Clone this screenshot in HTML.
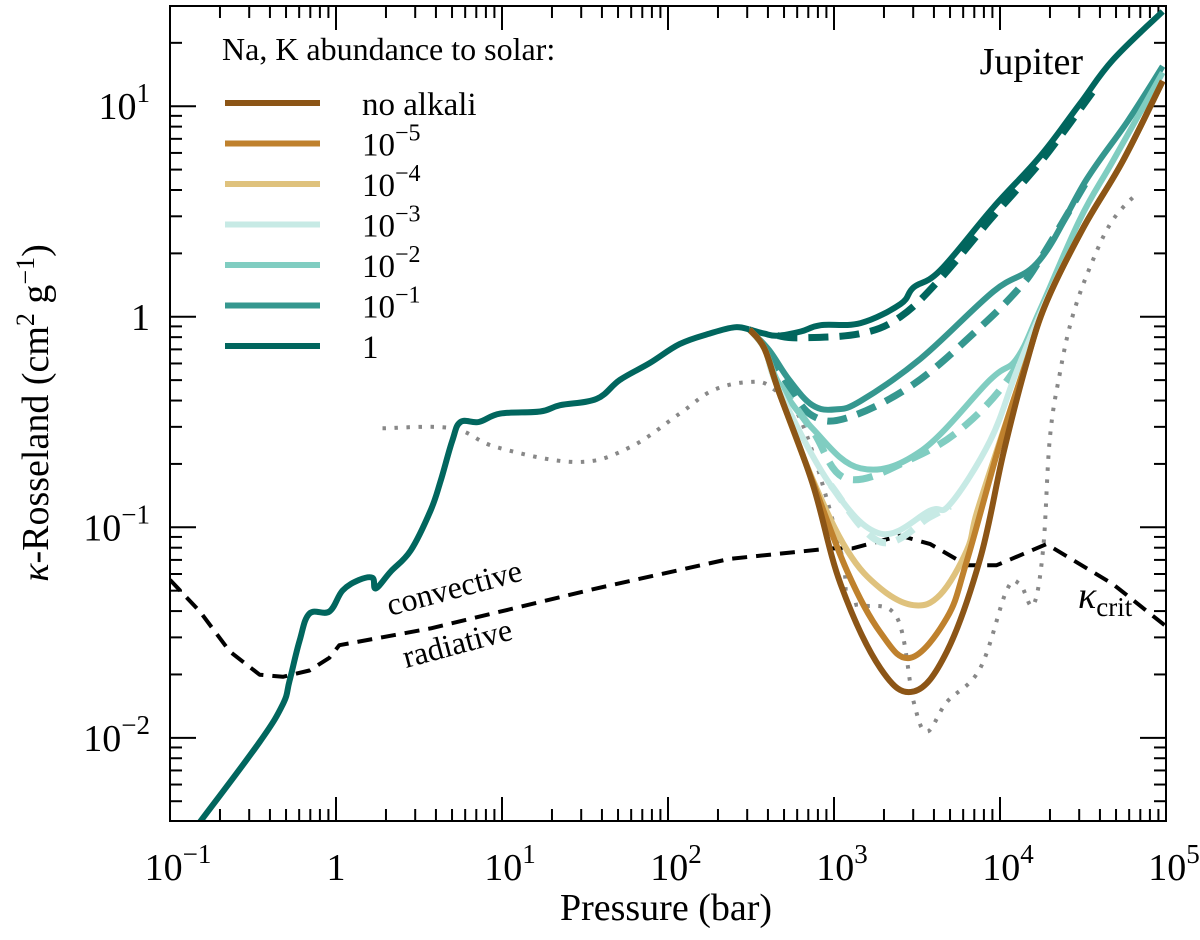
<!DOCTYPE html>
<html><head><meta charset="utf-8"><style>
body{margin:0;background:#fff;}
svg, svg text{font-family:"Liberation Serif","DejaVu Serif","Times New Roman",serif;}
</style></head><body>
<svg id="chart" width="1200" height="935" viewBox="0 0 1200 935" xmlns="http://www.w3.org/2000/svg" font-family="Liberation Serif, DejaVu Serif, serif">
<g id="ticks"></g>
<g id="series"></g>
<rect x="170" y="6" width="996" height="815" fill="none" stroke="#000" stroke-width="2"/>
<g id="labels" font-size="38" font-family="Liberation Serif, serif"></g>
<text x="666" y="920" font-size="38" text-anchor="middle" font-family="Liberation Serif, serif">Pressure (bar)</text>
<text transform="translate(48,413) rotate(-90)" font-size="38" text-anchor="middle" font-family="Liberation Serif, serif"><tspan font-style="italic">κ</tspan>-Rosseland (cm<tspan dy="-14" font-size="26">2</tspan><tspan dy="14"> g</tspan><tspan dy="-14" font-size="26">−1</tspan><tspan dy="14">)</tspan></text>
<text x="1083" y="74" font-size="38" text-anchor="end" font-family="Liberation Serif, serif">Jupiter</text>
<text transform="translate(390,616) rotate(-15)" font-size="32" font-family="Liberation Serif, serif">convective</text>
<text transform="translate(406,668) rotate(-15)" font-size="32" font-family="Liberation Serif, serif">radiative</text>
<text x="1078" y="608" font-size="38" font-family="Liberation Serif, serif"><tspan font-style="italic">κ</tspan><tspan dy="8" font-size="27">crit</tspan></text>
<g id="legend" font-family="Liberation Serif, serif"></g>
</svg>
<script>
// ---- data (log10 pressure [bar], log10 kappa [cm2/g]) ----
const commonP = [-0.82,-0.46,-0.32,-0.28,-0.22,-0.16,-0.04,0.04,0.14,0.22,0.24,0.33,0.45,0.57,0.63,0.70,0.75,0.86,0.99,1.23,1.35,1.57,1.71,1.89,2.07,2.25,2.40,2.49];
const commonK = [-2.40,-2.02,-1.84,-1.73,-1.54,-1.41,-1.40,-1.30,-1.25,-1.24,-1.29,-1.21,-1.11,-0.92,-0.78,-0.59,-0.50,-0.50,-0.46,-0.45,-0.42,-0.39,-0.30,-0.22,-0.13,-0.08,-0.05,-0.06];
const s1P = [2.49,2.58,2.66,2.80,2.92,3.16,3.40,3.48,3.64,3.96,4.24,4.48,4.68,4.98];
const s1K = [-0.06,-0.08,-0.09,-0.07,-0.04,-0.03,0.06,0.14,0.22,0.52,0.76,1.01,1.22,1.45];
const d1P = [2.66,2.80,3.16,3.40,3.64,3.94,4.12,4.30,4.56];
const d1K = [-0.09,-0.10,-0.08,0.00,0.18,0.46,0.62,0.79,1.07];
const s01P = [2.49,2.61,2.73,2.87,3.01,3.16,3.52,3.96,4.24,4.52,4.77,4.98];
const s01K = [-0.06,-0.16,-0.30,-0.42,-0.44,-0.40,-0.20,0.12,0.27,0.65,0.93,1.19];
const d01P = [2.61,2.73,2.87,3.08,3.48,3.88,4.12,4.24,4.52];
const d01K = [-0.17,-0.33,-0.47,-0.48,-0.32,-0.05,0.14,0.27,0.64];
const s001P = [2.49,2.58,2.67,2.87,3.16,3.52,3.94,4.10,4.24,4.48,4.68,4.98];
const s001K = [-0.06,-0.15,-0.32,-0.53,-0.72,-0.64,-0.30,-0.20,0.03,0.46,0.74,1.16];
const d001P = [2.67,2.87,3.08,3.48,3.80,4.08,4.24];
const d001K = [-0.32,-0.54,-0.77,-0.67,-0.51,-0.26,0.02];
const s0001P = [2.49,2.58,2.67,2.98,3.28,3.58,3.70,3.94,4.10,4.28,4.50,4.74,4.98];
const s0001K = [-0.06,-0.15,-0.35,-0.80,-1.03,-0.92,-0.89,-0.59,-0.26,0.08,0.42,0.74,1.12];
const d0001P = [2.98,3.28,3.58,3.70];
const d0001K = [-0.80,-1.07,-0.95,-0.90];
const s1e4P = [2.49,2.58,2.67,2.87,3.08,3.28,3.48,3.64,3.80,3.86,4.00,4.16,4.28,4.50,4.74,4.98];
const s1e4K = [-0.06,-0.15,-0.36,-0.77,-1.11,-1.29,-1.37,-1.32,-1.11,-0.93,-0.59,-0.21,0.07,0.42,0.74,1.12];
const s1e5P = [2.49,2.58,2.67,2.87,3.08,3.28,3.46,3.68,3.80,4.00,4.16,4.28,4.50,4.74,4.98];
const s1e5K = [-0.06,-0.15,-0.36,-0.78,-1.21,-1.50,-1.62,-1.43,-1.16,-0.60,-0.21,0.07,0.42,0.74,1.12];
const noAlkP = [2.49,2.58,2.67,2.87,3.04,3.28,3.48,3.68,3.88,4.02,4.16,4.28,4.50,4.74,4.98];
const noAlkK = [-0.06,-0.15,-0.36,-0.79,-1.27,-1.67,-1.78,-1.59,-1.15,-0.65,-0.22,0.07,0.42,0.74,1.12];
const dotP = [0.28,0.70,0.97,1.45,1.77,2.07,2.27,2.49,2.63,2.81,3.04,3.08,3.17,3.38,3.48,3.56,3.68,3.88,4.04,4.12,4.20,4.26,4.30,4.36,4.44,4.56,4.68,4.83];
const dotK = [-0.53,-0.53,-0.62,-0.69,-0.62,-0.46,-0.35,-0.31,-0.34,-0.51,-1.11,-1.35,-1.37,-1.43,-1.83,-1.97,-1.83,-1.67,-1.30,-1.27,-1.37,-1.10,-0.58,-0.27,0.01,0.27,0.46,0.59];
const critP = [-1.00,-0.82,-0.64,-0.46,-0.32,-0.16,-0.04,0.02,0.57,1.57,2.37,2.98,3.11,3.40,3.58,3.80,3.98,4.28,4.68,5.00];
const critK = [-1.25,-1.40,-1.59,-1.70,-1.71,-1.68,-1.62,-1.56,-1.48,-1.29,-1.15,-1.10,-1.10,-1.04,-1.08,-1.18,-1.18,-1.08,-1.27,-1.47];
const xTickExp = [-1,0,1,2,3,4,5];
const xTickText = [["10","−1"],["1",""],["10","1"],["10","2"],["10","3"],["10","4"],["10","5"]];
const yTickExp = [-2,-1,0,1];
const yTickText = [["10","−2"],["10","−1"],["1",""],["10","1"]];
const legendNames = ["no alkali","10|−5","10|−4","10|−3","10|−2","10|−1","1"];
const legendColors = ["#8c5516","#bf812d","#dfc27d","#c7eae5","#80cdc1","#35978f","#01665e"];

const NS="http://www.w3.org/2000/svg";
const X0=170,X1=1166,Y0=6,Y1=821, PX=-1,PXmax=5, KMIN=-2.395, KMAX=1.476;
function sx(lp){return X0+(lp-PX)/(PXmax-PX)*(X1-X0);}
function sy(lk){return Y1-(lk-KMIN)/(KMAX-KMIN)*(Y1-Y0);}
function mk(tag,attrs,parent){const e=document.createElementNS(NS,tag);for(const k in attrs)e.setAttribute(k,attrs[k]);parent.appendChild(e);return e;}
const series=document.getElementById('series');
mk('clipPath',{id:'clip'},series);
mk('rect',{x:X0,y:Y0,width:X1-X0,height:Y1-Y0},document.getElementById('clip'));
function pathD(P,K,smooth){
  const pts=P.map((p,i)=>[sx(p),sy(K[i])]);
  if(!smooth) return pts.map((q,i)=>(i?'L':'M')+q[0].toFixed(1)+','+q[1].toFixed(1)).join('');
  let d='M'+pts[0][0].toFixed(1)+','+pts[0][1].toFixed(1);
  for(let i=0;i<pts.length-1;i++){
    const p0=pts[Math.max(0,i-1)],p1=pts[i],p2=pts[i+1],p3=pts[Math.min(pts.length-1,i+2)];
    const t=0.18;
    const c1=[p1[0]+(p2[0]-p0[0])*t,p1[1]+(p2[1]-p0[1])*t];
    const c2=[p2[0]-(p3[0]-p1[0])*t,p2[1]-(p3[1]-p1[1])*t];
    d+='C'+c1[0].toFixed(1)+','+c1[1].toFixed(1)+' '+c2[0].toFixed(1)+','+c2[1].toFixed(1)+' '+p2[0].toFixed(1)+','+p2[1].toFixed(1);
  }
  return d;
}
function line(P,K,color,w,dash,name,smooth){
  const e=mk('path',{d:pathD(P,K,smooth),fill:'none',stroke:color,'stroke-width':w,'stroke-linejoin':'round','clip-path':'url(#clip)'},series);
  if(dash)e.setAttribute('stroke-dasharray',dash);
  
  
}
line(dotP,dotK,'#888',4,'3.5,8.5','dotted-reference-line',true);
line(critP,critK,'#000',4,'15,9','kappa-crit-line',false);
line(s1P,s1K,'#01665e',6,null,'line-abundance-1',true);
line(d1P,d1K,'#01665e',7,'20,11','dashed-abundance-1',true);
line(s01P,s01K,'#35978f',6,null,'line-abundance-1e-1',true);
line(d01P,d01K,'#35978f',7,'20,11','dashed-abundance-1e-1',true);
line(s001P,s001K,'#80cdc1',6,null,'line-abundance-1e-2',true);
line(d001P,d001K,'#80cdc1',7,'20,11','dashed-abundance-1e-2',true);
line(s0001P,s0001K,'#c7eae5',6,null,'line-abundance-1e-3',true);
line(d0001P,d0001K,'#c7eae5',7,'20,11','dashed-abundance-1e-3',true);
line(s1e4P,s1e4K,'#dfc27d',6,null,'line-abundance-1e-4',true);
line(s1e5P,s1e5K,'#bf812d',6,null,'line-abundance-1e-5',true);
line(noAlkP,noAlkK,'#8c5516',6,null,'line-no-alkali',true);
line(commonP,commonK,'#01665e',6,null,'line-common-profile',true);

// ticks
const tk=document.getElementById('ticks');
function tick(x1,y1,x2,y2,name){const e=mk('line',{x1:x1,y1:y1,x2:x2,y2:y2,stroke:'#000','stroke-width':2},tk);
  
  }
for(let e=-1;e<=5;e++){
  const x=sx(e);
  if(e>-1&&e<5){tick(x,Y1,x,Y1-24,'x-major-tick');tick(x,Y0,x,Y0+24,'x-major-tick-top');}
  if(e<5)for(let m=2;m<=9;m++){const xm=sx(e+Math.log10(m));tick(xm,Y1,xm,Y1-12,'x-minor-tick');tick(xm,Y0,xm,Y0+12,'x-minor-tick-top');}
}
for(let e=-3;e<=1;e++){
  const y=sy(e);
  if(y>Y0&&y<Y1){tick(X0,y,X0+26,y,'y-major-tick');tick(X1,y,X1-26,y,'y-major-tick-right');}
  for(let m=2;m<=9;m++){const ym=sy(e+Math.log10(m));if(ym>Y0+1&&ym<Y1-1){tick(X0,ym,X0+12,ym,'y-minor-tick');tick(X1,ym,X1-12,ym,'y-minor-tick-right');}}
}
const lb=document.getElementById('labels');
xTickExp.forEach((e,i)=>{
  const t=mk('text',{x:sx(e)+(xTickText[i][1]?8:0),y:880,'text-anchor':'middle'},lb);
  
  
  t.textContent=xTickText[i][0];
  if(xTickText[i][1]){const s=mk('tspan',{dy:-17,'font-size':27},t);s.textContent=xTickText[i][1];}
});
yTickExp.forEach((e,i)=>{
  const t=mk('text',{x:150,y:sy(e)+13,'text-anchor':'end'},lb);
  
  
  t.textContent=yTickText[i][0];
  if(yTickText[i][1]){const s=mk('tspan',{dy:-17,'font-size':27},t);s.textContent=yTickText[i][1];}
});
// legend
const lg=document.getElementById('legend');
const tt=mk('text',{x:222,y:60,'font-size':32},lg);


tt.textContent='Na, K abundance to solar:';
legendNames.forEach((n,i)=>{
  const y=103+i*40.5;
  const l=mk('line',{x1:225,y1:y,x2:320,y2:y,stroke:legendColors[i],'stroke-width':6},lg);
  
  
  const parts=n.split('|');
  const t=mk('text',{x:362,y:y+12,'font-size':33},lg);
  
  
  t.textContent=parts[0];
  if(parts[1]){const s=mk('tspan',{dy:-15,'font-size':24},t);s.textContent=parts[1];}
});
</script>
</body></html>
